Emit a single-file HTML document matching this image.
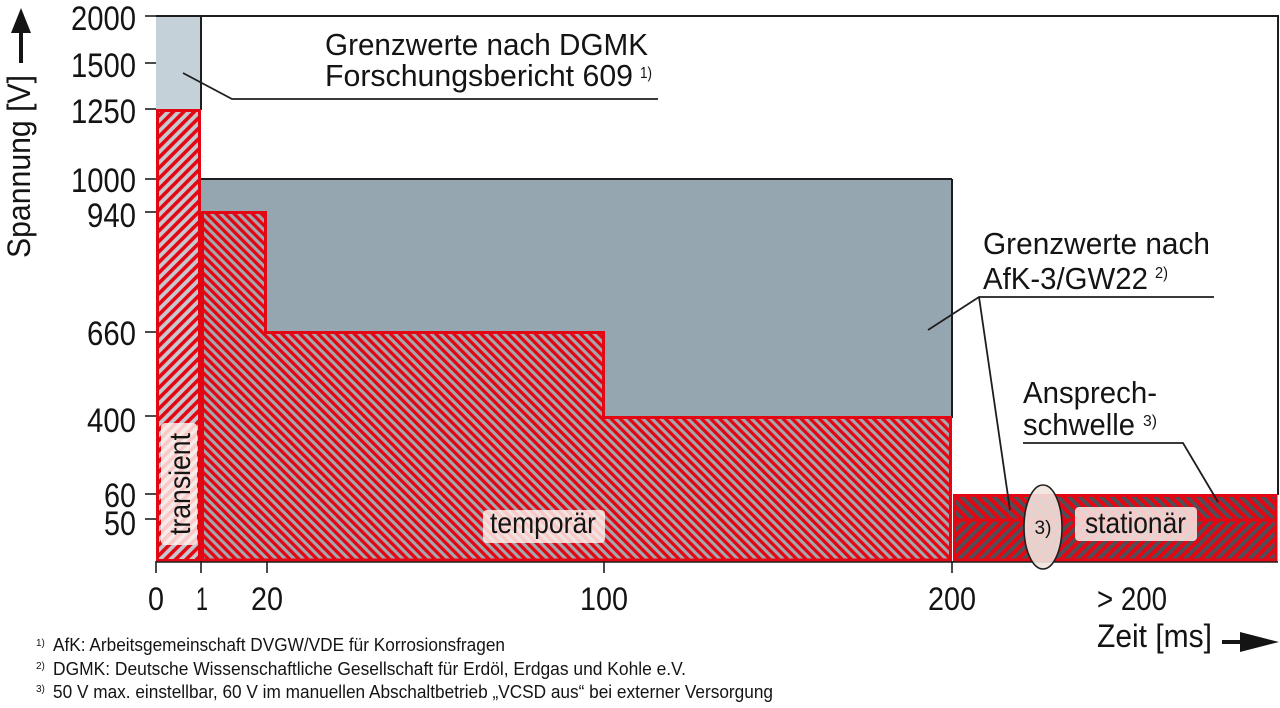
<!DOCTYPE html>
<html><head><meta charset="utf-8"><style>
html,body{margin:0;padding:0;background:#fff;}
svg{display:block;}
text{font-family:"Liberation Sans",sans-serif;fill:#141414;}
</style></head><body>
<svg width="1280" height="708" viewBox="0 0 1280 708" xmlns="http://www.w3.org/2000/svg">
<defs>
<pattern id="pT" patternUnits="userSpaceOnUse" width="7.4" height="7.4" patternTransform="rotate(45)">
<rect width="7.4" height="7.4" fill="#c5c9cf"/><rect width="3.6" height="7.4" fill="#e30613"/>
</pattern>
<pattern id="pM" patternUnits="userSpaceOnUse" width="6.4" height="6.4" patternTransform="rotate(-45)">
<rect width="6.4" height="6.4" fill="#a3a7ae"/><rect width="3.3" height="6.4" fill="#e30613"/>
</pattern>
<pattern id="pS1" patternUnits="userSpaceOnUse" width="7.6" height="7.6" patternTransform="rotate(-45)">
<rect width="7.6" height="7.6" fill="#e30613"/><rect width="3.6" height="7.6" fill="#4d5058"/>
</pattern>
<pattern id="pS2" patternUnits="userSpaceOnUse" width="7.6" height="7.6" patternTransform="rotate(45)">
<rect width="7.6" height="7.6" fill="#e30613"/><rect width="3.6" height="7.6" fill="#4d5058"/>
</pattern>
</defs>

<!-- background areas -->
<rect x="156" y="16" width="45" height="94" fill="#c5d1d8"/>
<rect x="201" y="179" width="751" height="383" fill="#95a6b0"/>

<!-- frame lines -->
<g stroke="#1e1e1e" stroke-width="2" fill="none">
<line x1="156" y1="16" x2="1279" y2="16"/>
<line x1="1278" y1="16" x2="1278" y2="495"/>
<line x1="201" y1="16" x2="201" y2="110"/>
<line x1="201" y1="179" x2="952" y2="179"/>
<line x1="952" y1="179" x2="952" y2="418"/>
</g>

<!-- transient -->
<rect x="157.5" y="110.5" width="42" height="450" fill="url(#pT)" stroke="#e30613" stroke-width="3"/>
<!-- temporär -->
<polygon points="202.5,212.5 265.5,212.5 265.5,332.5 603.5,332.5 603.5,417.5 950.5,417.5 950.5,560 202.5,560" fill="url(#pM)" stroke="#e30613" stroke-width="3"/>
<!-- stationär -->
<rect x="953" y="494" width="324" height="26" fill="url(#pS1)"/>
<rect x="953" y="520" width="324" height="41" fill="url(#pS2)"/>
<rect x="954.5" y="495.5" width="321.5" height="64.5" fill="none" stroke="#e30613" stroke-width="3"/>
<line x1="953" y1="520" x2="1277" y2="520" stroke="#e30613" stroke-width="3"/>

<!-- x axis -->
<g stroke="#1e1e1e" stroke-width="1.6">
<line x1="156" y1="562" x2="1278" y2="562"/>
<line x1="156" y1="561" x2="156" y2="573"/>
<line x1="201" y1="561" x2="201" y2="573"/>
<line x1="267" y1="561" x2="267" y2="573"/>
<line x1="604" y1="561" x2="604" y2="573"/>
<line x1="952" y1="561" x2="952" y2="573"/>
</g>
<!-- y ticks -->
<g stroke="#1e1e1e" stroke-width="1.6">
<line x1="145" y1="16" x2="156" y2="16"/>
<line x1="145" y1="63" x2="156" y2="63"/>
<line x1="145" y1="109" x2="156" y2="109"/>
<line x1="145" y1="179" x2="156" y2="179"/>
<line x1="145" y1="212" x2="156" y2="212"/>
<line x1="145" y1="332" x2="156" y2="332"/>
<line x1="145" y1="416" x2="156" y2="416"/>
<line x1="145" y1="494" x2="156" y2="494"/>
<line x1="145" y1="519" x2="156" y2="519"/>
</g>

<!-- y tick labels -->
<g font-size="34" text-anchor="end">
<text x="136" y="30" textLength="65" lengthAdjust="spacingAndGlyphs">2000</text>
<text x="136" y="77" textLength="65" lengthAdjust="spacingAndGlyphs">1500</text>
<text x="136" y="123" textLength="65" lengthAdjust="spacingAndGlyphs">1250</text>
<text x="136" y="192" textLength="65" lengthAdjust="spacingAndGlyphs">1000</text>
<text x="136" y="227" textLength="49" lengthAdjust="spacingAndGlyphs">940</text>
<text x="136" y="345" textLength="49" lengthAdjust="spacingAndGlyphs">660</text>
<text x="136" y="432" textLength="49" lengthAdjust="spacingAndGlyphs">400</text>
<text x="136" y="507" textLength="32" lengthAdjust="spacingAndGlyphs">60</text>
<text x="136" y="535" textLength="32" lengthAdjust="spacingAndGlyphs">50</text>
</g>

<!-- x tick labels -->
<g font-size="32" text-anchor="middle">
<text x="156" y="610" textLength="16" lengthAdjust="spacingAndGlyphs">0</text>
<text x="202" y="610" textLength="12" lengthAdjust="spacingAndGlyphs">1</text>
<text x="267" y="610" textLength="32" lengthAdjust="spacingAndGlyphs">20</text>
<text x="604" y="610" textLength="48" lengthAdjust="spacingAndGlyphs">100</text>
<text x="952" y="610" textLength="48" lengthAdjust="spacingAndGlyphs">200</text>
<text x="1132" y="610" textLength="70" lengthAdjust="spacingAndGlyphs">&gt; 200</text>
</g>

<!-- axis titles -->
<text x="1097" y="647" font-size="32" textLength="115" lengthAdjust="spacingAndGlyphs">Zeit [ms]</text>
<rect x="1222" y="640" width="22" height="4" fill="#141414"/>
<polygon points="1279,642 1240,632 1240,652" fill="#141414"/>

<text transform="translate(30,258) rotate(-90)" font-size="32" textLength="183" lengthAdjust="spacingAndGlyphs">Spannung [V]</text>
<rect x="19" y="32" width="4" height="31" fill="#141414"/>
<polygon points="21,8 11,33 31,33" fill="#141414"/>

<!-- annotations -->
<g stroke="#1e1e1e" stroke-width="1.8" fill="none">
<polyline points="183,73 232,99 658,99"/>
<polyline points="928,330 979,297 1214,297"/>
<line x1="979" y1="297" x2="1010" y2="510"/>
<polyline points="1023,443 1183,443 1218,502"/>
</g>

<text x="325" y="55" font-size="31" textLength="323" lengthAdjust="spacingAndGlyphs">Grenzwerte nach DGMK</text>
<text x="325" y="86" font-size="31" textLength="308" lengthAdjust="spacingAndGlyphs">Forschungsbericht 609</text>
<text x="640" y="78" font-size="16" textLength="12" lengthAdjust="spacingAndGlyphs">1)</text>

<text x="983" y="254" font-size="31" textLength="227" lengthAdjust="spacingAndGlyphs">Grenzwerte nach</text>
<text x="983" y="289" font-size="31" textLength="165" lengthAdjust="spacingAndGlyphs">AfK-3/GW22</text>
<text x="1155" y="278" font-size="16" textLength="13" lengthAdjust="spacingAndGlyphs">2)</text>

<text x="1023" y="403" font-size="31" textLength="134" lengthAdjust="spacingAndGlyphs">Ansprech-</text>
<text x="1023" y="435" font-size="31" textLength="112" lengthAdjust="spacingAndGlyphs">schwelle</text>
<text x="1143" y="426" font-size="16" textLength="14" lengthAdjust="spacingAndGlyphs">3)</text>

<!-- label boxes -->
<rect x="161" y="423" width="36" height="122" rx="4" fill="#fff3ee" fill-opacity="0.82"/>
<text transform="translate(190,535) rotate(-90)" font-size="30" textLength="102" lengthAdjust="spacingAndGlyphs">transient</text>

<rect x="483" y="510" width="122" height="33" rx="4" fill="#fff3ee" fill-opacity="0.82"/>
<text x="490" y="533" font-size="30" textLength="106" lengthAdjust="spacingAndGlyphs">temporär</text>

<rect x="1075" y="507" width="122" height="34" rx="4" fill="#fff3ee" fill-opacity="0.82"/>
<text x="1085" y="533" font-size="30" textLength="101" lengthAdjust="spacingAndGlyphs">stationär</text>

<ellipse cx="1043" cy="527" rx="19" ry="42" fill="#f1e3de" fill-opacity="0.9" stroke="#1e1e1e" stroke-width="1.6"/>
<text x="1043" y="534" font-size="19" text-anchor="middle">3)</text>

<!-- footnotes -->
<g font-size="10">
<text x="36" y="646">1)</text>
<text x="36" y="669">2)</text>
<text x="36" y="692">3)</text>
</g>
<g font-size="18">
<text x="53" y="651" textLength="452" lengthAdjust="spacingAndGlyphs">AfK: Arbeitsgemeinschaft DVGW/VDE für Korrosionsfragen</text>
<text x="53" y="675" textLength="633" lengthAdjust="spacingAndGlyphs">DGMK: Deutsche Wissenschaftliche Gesellschaft für Erdöl, Erdgas und Kohle e.V.</text>
<text x="53" y="698" textLength="720" lengthAdjust="spacingAndGlyphs">50 V max. einstellbar, 60 V im manuellen Abschaltbetrieb „VCSD aus“ bei externer Versorgung</text>
</g>
</svg>
</body></html>
